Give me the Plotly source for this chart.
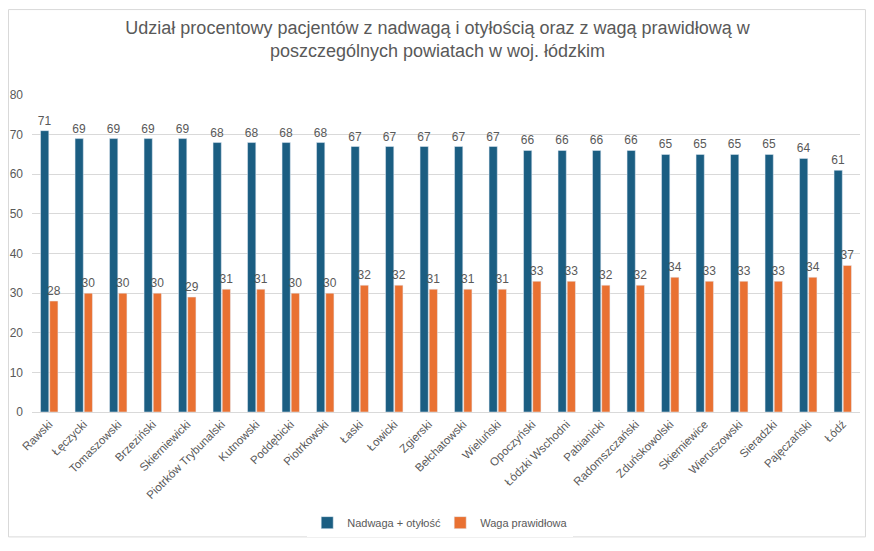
import plotly.graph_objects as go

categories = ["Rawski", "Łęczycki", "Tomaszowski", "Brzeziński", "Skierniewicki",
              "Piotrków Trybunalski", "Kutnowski", "Poddębicki", "Piotrkowski", "Łaski",
              "Łowicki", "Zgierski", "Bełchatowski", "Wieluński", "Opoczyński",
              "Łódzki Wschodni", "Pabianicki", "Radomszczański", "Zduńskowolski",
              "Skierniewice", "Wieruszowski", "Sieradzki", "Pajęczański", "Łódź"]
nadwaga = [71, 69, 69, 69, 69, 68, 68, 68, 68, 67, 67, 67, 67, 67, 66, 66, 66, 66,
           65, 65, 65, 65, 64, 61]
prawidlowa = [28, 30, 30, 30, 29, 31, 31, 30, 30, 32, 32, 31, 31, 31, 33, 33, 32, 32,
              34, 33, 33, 33, 34, 37]
y_ticks = [0, 10, 20, 30, 40, 50, 60, 70, 80]

FONT = "Liberation Sans"
GRAY = "#595959"

fig = go.Figure()
fig.add_trace(go.Bar(x=categories, y=nadwaga, name="Nadwaga + otyłość",
                     marker_color="#1b5e82", text=nadwaga, textposition="outside",
                     constraintext="none", cliponaxis=False,
                     textfont=dict(size=12, color=GRAY, family=FONT)))
fig.add_trace(go.Bar(x=categories, y=prawidlowa, name="Waga prawidłowa",
                     marker_color="#e97132", text=prawidlowa, textposition="outside",
                     constraintext="none", cliponaxis=False,
                     textfont=dict(size=12, color=GRAY, family=FONT)))

fig.update_layout(
    width=858, height=535,
    paper_bgcolor="white", plot_bgcolor="white",
    margin=dict(l=24, r=6, t=87, b=127),
    font=dict(family=FONT, color=GRAY, size=12),
    title=dict(text="Udział procentowy pacjentów z nadwagą i otyłością oraz z wagą prawidłową w<br>poszczególnych powiatach w woj. łódzkim",
               x=0.5006, xref="container", xanchor="center", y=0.952, yanchor="middle",
               font=dict(size=18, color=GRAY, family=FONT)),
    barmode="group", bargap=0.47, bargroupgap=0.1,
    legend=dict(orientation="h", x=0.493, xanchor="center", y=-0.349, yanchor="middle",
                itemwidth=30, entrywidth=88, entrywidthmode="pixels",
                font=dict(size=11, color=GRAY, family=FONT), traceorder="normal"),
    showlegend=True,
)
fig.update_yaxes(range=[0, 80], tickvals=y_ticks, showgrid=True, gridcolor="#d9d9d9",
                 gridwidth=1, zeroline=False, showline=False, automargin=False,
                 tickfont=dict(size=12, color=GRAY), ticks="", ticklabelstandoff=8)
fig.update_xaxes(tickangle=-45, showline=True, linecolor="#d9d9d9", linewidth=1,
                 automargin=False,
                 tickfont=dict(size=11.5, color=GRAY), ticks="")
fig.add_shape(type="rect", xref="paper", yref="paper",
              x0=-0.0284, x1=1.0066, y0=-0.394, y1=1.2695,
              line=dict(color="#d9d9d9", width=1), fillcolor="rgba(0,0,0,0)")

fig.write_html("out.html")
